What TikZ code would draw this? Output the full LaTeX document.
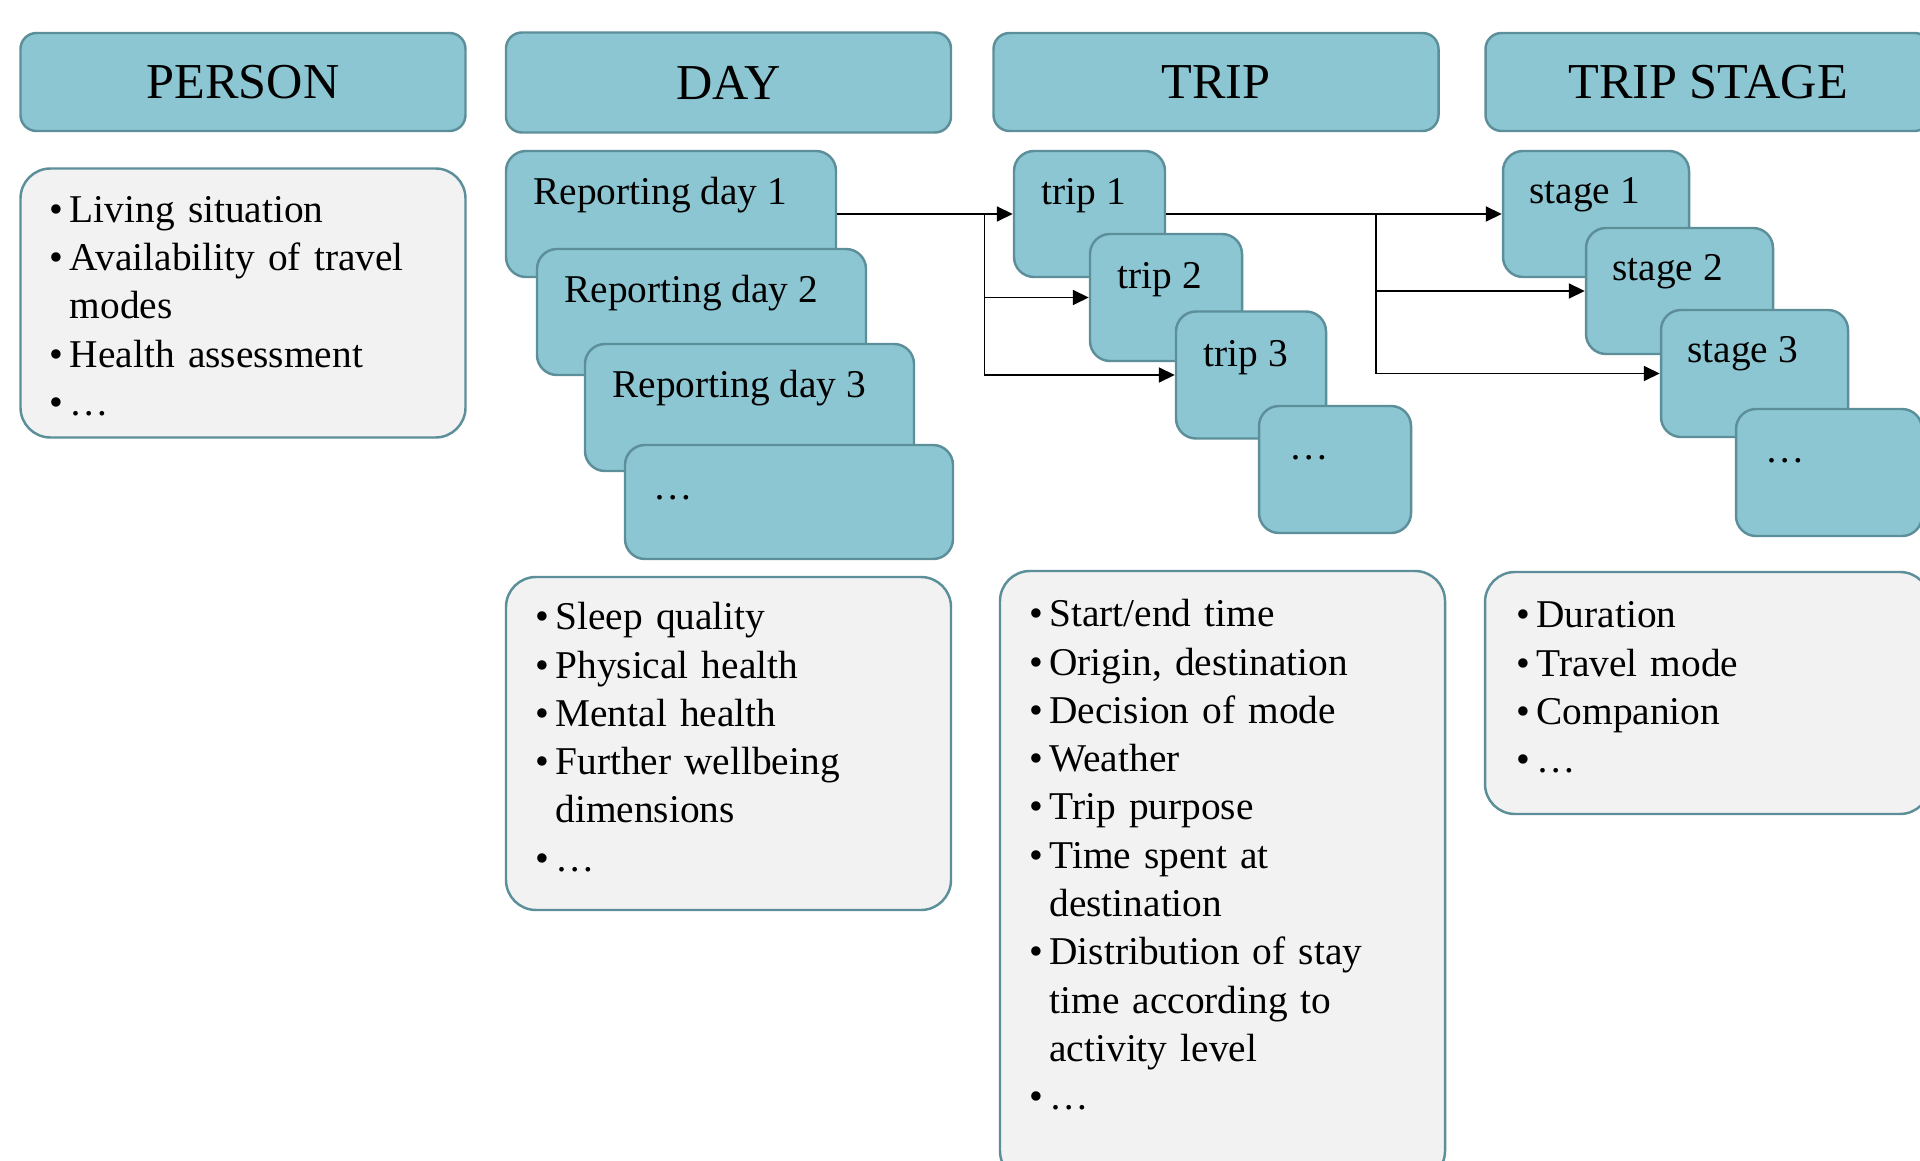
\documentclass[tikz,border=0pt]{standalone}
\usepackage{fontspec}
\setmainfont{Liberation Serif}
\usetikzlibrary{arrows.meta}

\definecolor{boxfill}{HTML}{8CC6D2}
\definecolor{boxline}{HTML}{5C8F99}
\definecolor{listfill}{HTML}{F2F2F2}

\newcommand{\bul}[1]{\hangindent=0.2cm\hangafter=1\noindent\makebox[0.2cm][l]{\textbullet}#1\par}

\begin{document}
\begin{tikzpicture}[font=\fontsize{11.2}{13.74}\selectfont]
        % Setup the styles for the boxes
        \tikzset{head style/.style={rectangle, rounded corners=0.16cm,
                                    draw=boxline, fill=boxfill,
                                    line width=0.7pt,
                                    minimum width=4.45cm, minimum height=0.98cm,
                                    font=\fontsize{14.3}{17}\selectfont},
                 card style/.style={rectangle, rounded corners=0.2cm,
                                    draw=boxline, fill=boxfill,
                                    line width=0.7pt, minimum height=1.26cm},
                 list style/.style={rectangle, rounded corners=0.3cm,
                                    draw=boxline, fill=listfill,
                                    line width=0.7pt, minimum width=4.45cm},
                 card text/.style={anchor=base west, inner sep=0pt},
                 list text/.style={anchor=base west, inner sep=0pt, text width=3.9cm},
                 arrow style/.style={-{Triangle[length=1.6mm, width=1.5mm]},
                                     line width=0.5pt}}

        \useasboundingbox (0,0) rectangle (19.2,-11.61);

        % Draw the headers
        \node[head style] at (2.43,-0.82) (person) {PERSON};
        \node[head style, minimum height=1cm] at (7.285,-0.825) (day) {DAY};
        \node[head style] at (12.16,-0.82) (trip) {TRIP};
        \node[head style] at (17.08,-0.82) (stage) {TRIP STAGE};

        % Draw the day cards
        \node[card style, minimum width=3.3cm] at (6.71,-2.14) (day1) {};
        \node[card text] at ([shift={(0.28,-0.55)}]day1.north west) (day1txt) {Reporting day 1};
        \node[card style, minimum width=3.29cm] at (7.015,-3.12) (day2) {};
        \node[card text] at ([shift={(0.28,-0.55)}]day2.north west) (day2txt) {Reporting day 2};
        \node[card style, minimum width=3.29cm, minimum height=1.27cm] at (7.495,-4.075) (day3) {};
        \node[card text] at ([shift={(0.28,-0.55)}]day3.north west) (day3txt) {Reporting day 3};
        \node[card style, minimum width=3.28cm, minimum height=1.14cm] at (7.89,-5.02) (dayn) {};
        \node[card text] at ([shift={(0.29,-0.56)}]dayn.north west) (dayntxt) {\dots};

        % Draw the trip cards
        \node[card style, minimum width=1.51cm] at (10.895,-2.14) (trip1) {};
        \node[card text] at ([shift={(0.28,-0.55)}]trip1.north west) (trip1txt) {trip 1};
        \node[card style, minimum width=1.52cm, minimum height=1.27cm] at (11.66,-2.975) (trip2) {};
        \node[card text] at ([shift={(0.28,-0.56)}]trip2.north west) (trip2txt) {trip 2};
        \node[card style, minimum width=1.5cm, minimum height=1.27cm] at (12.51,-3.75) (trip3) {};
        \node[card text] at ([shift={(0.28,-0.56)}]trip3.north west) (trip3txt) {trip 3};
        \node[card style, minimum width=1.52cm, minimum height=1.27cm] at (13.35,-4.695) (tripn) {};
        \node[card text] at ([shift={(0.31,-0.55)}]tripn.north west) (tripntxt) {\dots};

        % Draw the stage cards
        \node[card style, minimum width=1.86cm] at (15.96,-2.14) (stage1) {};
        \node[card text] at ([shift={(0.27,-0.54)}]stage1.north west) (stage1txt) {stage 1};
        \node[card style, minimum width=1.87cm] at (16.795,-2.91) (stage2) {};
        \node[card text] at ([shift={(0.27,-0.54)}]stage2.north west) (stage2txt) {stage 2};
        \node[card style, minimum width=1.87cm, minimum height=1.27cm] at (17.545,-3.735) (stage3) {};
        \node[card text] at ([shift={(0.27,-0.54)}]stage3.north west) (stage3txt) {stage 3};
        \node[card style, minimum width=1.86cm, minimum height=1.27cm] at (18.29,-4.725) (stagen) {};
        \node[card text] at ([shift={(0.3,-0.55)}]stagen.north west) (stagentxt) {\dots};

        % Draw the attribute lists
        \node[list style, minimum height=2.69cm] at (2.43,-3.03) (personlist) {};
        \node[list text] at ([shift={(0.3,-0.55)}]personlist.north west) (personitems)
            {\bul{Living situation}\bul{Availability of travel\newline modes}\bul{Health assessment}\bul{\dots}};
        \node[list style, minimum height=3.33cm] at (7.285,-7.435) (daylist) {};
        \node[list text] at ([shift={(0.3,-0.54)}]daylist.north west) (dayitems)
            {\bul{Sleep quality}\bul{Physical health}\bul{Mental health}\bul{Further wellbeing\newline dimensions}\bul{\dots}};
        \node[list style, minimum height=6.1cm] at (12.225,-8.76) (triplist) {};
        \node[list text] at ([shift={(0.3,-0.57)}]triplist.north west) (tripitems)
            {\bul{Start/end time}\bul{Origin, destination}\bul{Decision of mode}\bul{Weather}\bul{Trip purpose}\bul{Time spent at\newline destination}\bul{Distribution of stay\newline time according to\newline activity level}\bul{\dots}};
        \node[list style, minimum height=2.42cm] at (17.075,-6.93) (stagelist) {};
        \node[list text] at ([shift={(0.32,-0.57)}]stagelist.north west) (stageitems)
            {\bul{Duration}\bul{Travel mode}\bul{Companion}\bul{\dots}};

        % Connect the cards with arrows
        \coordinate (split1) at (9.845,-2.14);
        \coordinate (split2) at (13.76,-2.14);
        \draw[arrow style] (day1.east) -- (trip1.west);
        \draw[arrow style] (split1) |- (trip2.west);
        \draw[arrow style] (split1) |- (trip3.west);
        \draw[arrow style] (trip1.east) -- (stage1.west);
        \draw[arrow style] (split2) |- (stage2.west);
        \draw[arrow style] (split2) |- (stage3.west);
\end{tikzpicture}
\end{document}
